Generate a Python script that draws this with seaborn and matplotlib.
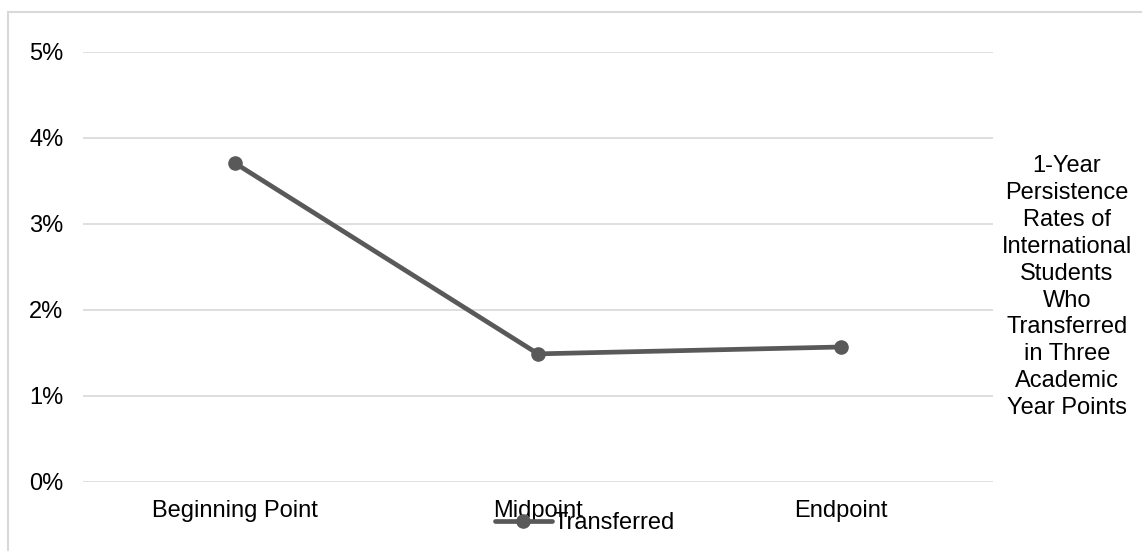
import matplotlib
matplotlib.use('Agg')
import matplotlib.pyplot as plt
import matplotlib.patches as mpatches
import pandas as pd
import seaborn as sns
from matplotlib.ticker import PercentFormatter

# data
points = ['Beginning Point', 'Midpoint', 'Endpoint']
transferred = [0.0371, 0.0149, 0.0157]
series_name = 'Transferred'
y_ticks = [0.0, 0.01, 0.02, 0.03, 0.04, 0.05]
title_text = ('1-Year\nPersistence\nRates of\nInternational\nStudents\nWho\n'
              'Transferred\nin Three\nAcademic\nYear Points')

sns.set_style('white')
plt.rcParams['font.family'] = ['Liberation Sans', 'DejaVu Sans']
plt.rcParams['text.color'] = 'black'

df = pd.DataFrame({'point': points, 'rate': transferred, 'series': series_name})

fig = plt.figure(figsize=(11.42, 5.51), dpi=100)
ax = fig.add_axes([83 / 1142, 69 / 551, 910 / 1142, 430 / 551])

line_color = '#595959'
sns.lineplot(data=df, x='point', y='rate', hue='series', palette=[line_color],
             marker='o', markersize=10.5, linewidth=3.4, markeredgewidth=0,
             sort=False, ax=ax)

ax.set_xlim(-0.5, 2.5)
ax.set_ylim(0, 0.05)
ax.set_yticks(y_ticks)
ax.yaxis.set_major_formatter(PercentFormatter(1.0, decimals=0))
ax.grid(axis='y', color='#d9d9d9', linewidth=1.2)
ax.grid(axis='x', visible=False)
ax.set_axisbelow(True)
for s in ax.spines.values():
    s.set_visible(False)
ax.tick_params(axis='both', length=0, labelsize=17, colors='black')
ax.tick_params(axis='y', pad=14)
ax.tick_params(axis='x', pad=13)
ax.set_xlabel('')
ax.set_ylabel('')

# legend sits over the middle tick label, as in the original
leg = ax.legend(loc='center', bbox_to_anchor=(585 / 1142, 28 / 551),
                bbox_transform=fig.transFigure, frameon=False, fontsize=17,
                handlelength=2.4, handletextpad=0.1, borderpad=0)
for t in leg.get_texts():
    t.set_color('black')

fig.text(1067 / 1142, 0.479, title_text, ha='center', va='center',
         fontsize=17, linespacing=1.29, color='black')

# outer chart border (runs off the right and bottom of the image)
border = mpatches.Rectangle((8 / 1142, -0.1), 1.2, (551 - 12) / 551 + 0.1,
                            transform=fig.transFigure, fill=False,
                            edgecolor='#d9d9d9', linewidth=1.5, clip_on=False)
fig.patches.append(border)

fig.savefig('out.png', dpi=100)
